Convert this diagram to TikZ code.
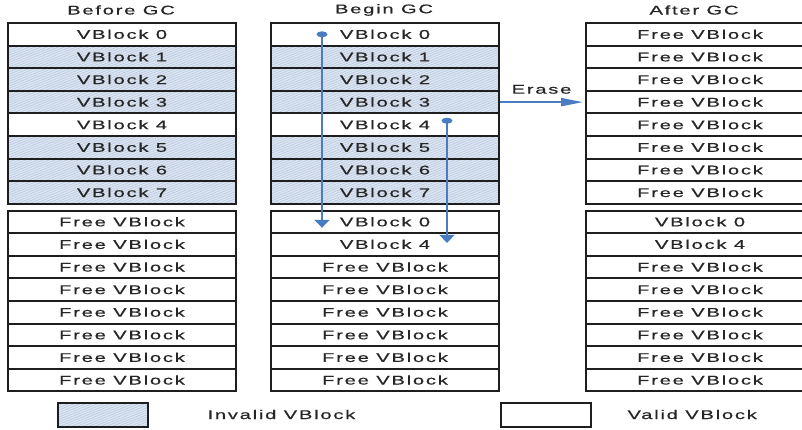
\documentclass[tikz,border=0pt]{standalone}
\usepackage{fontspec}
\setmainfont{Liberation Sans}[FakeStretch=1.6,LetterSpace=14,FakeBold=0.6]
\usetikzlibrary{arrows.meta,patterns.meta,calc,shapes.geometric}
\definecolor{edge}{HTML}{1E1E1E}
\definecolor{txtc}{HTML}{262626}
\definecolor{hatchbg}{HTML}{DCE5F1}
\definecolor{hatchln}{HTML}{B4C5DC}
\definecolor{arrowblue}{HTML}{4A7CC2}
\tikzset{
  txt/.style={font=\fontsize{12.6}{15}\selectfont, text=txtc},
  cell/.style={txt, draw=edge, line width=2pt, fill=white,
    minimum width=228pt, minimum height=22.6pt, inner sep=0pt, anchor=north west},
  inv/.style={fill=none, preaction={fill=hatchbg}, preaction={pattern={Lines[angle=22,distance=2.2pt,line width=0.5pt]}, pattern color=hatchln}},
  legbox/.style={draw=edge, line width=2pt, minimum width=90pt, minimum height=24pt, inner sep=0pt},
  hflow/.style={draw=arrowblue, line width=2pt, -{Triangle[length=22pt,width=8pt]}},
  vflow/.style={draw=arrowblue, line width=2.3pt, -{Triangle[length=8pt,width=15pt]}},
  dotmark/.style={fill=arrowblue, ellipse, minimum width=11pt, minimum height=6pt, inner sep=0pt},
  hdr/.style={txt}
}
\begin{document}
\begin{tikzpicture}[x=1pt,y=-1pt]
\useasboundingbox (0,0) rectangle (802,429);
% column A: Before GC
\node[hdr] (hA) at (121,10) {Before GC};
\node[cell] (A0) at (7,22.0) {VBlock 0};
\node[cell,inv] (A1) at (7,44.6) {VBlock 1};
\node[cell,inv] (A2) at (7,67.2) {VBlock 2};
\node[cell,inv] (A3) at (7,89.8) {VBlock 3};
\node[cell] (A4) at (7,112.4) {VBlock 4};
\node[cell,inv] (A5) at (7,135.0) {VBlock 5};
\node[cell,inv] (A6) at (7,157.6) {VBlock 6};
\node[cell,inv] (A7) at (7,180.2) {VBlock 7};
\node[cell] (AF0) at (7,209.5) {Free VBlock};
\node[cell] (AF1) at (7,232.1) {Free VBlock};
\node[cell] (AF2) at (7,254.7) {Free VBlock};
\node[cell] (AF3) at (7,277.3) {Free VBlock};
\node[cell] (AF4) at (7,299.9) {Free VBlock};
\node[cell] (AF5) at (7,322.5) {Free VBlock};
\node[cell] (AF6) at (7,345.1) {Free VBlock};
\node[cell] (AF7) at (7,367.7) {Free VBlock};
% column B: Begin GC
\node[hdr] (hB) at (384,10) {Begin GC};
\node[cell] (B0) at (270,22.0) {VBlock 0};
\node[cell,inv] (B1) at (270,44.6) {VBlock 1};
\node[cell,inv] (B2) at (270,67.2) {VBlock 2};
\node[cell,inv] (B3) at (270,89.8) {VBlock 3};
\node[cell] (B4) at (270,112.4) {VBlock 4};
\node[cell,inv] (B5) at (270,135.0) {VBlock 5};
\node[cell,inv] (B6) at (270,157.6) {VBlock 6};
\node[cell,inv] (B7) at (270,180.2) {VBlock 7};
\node[cell] (BF0) at (270,209.5) {VBlock 0};
\node[cell] (BF1) at (270,232.1) {VBlock 4};
\node[cell] (BF2) at (270,254.7) {Free VBlock};
\node[cell] (BF3) at (270,277.3) {Free VBlock};
\node[cell] (BF4) at (270,299.9) {Free VBlock};
\node[cell] (BF5) at (270,322.5) {Free VBlock};
\node[cell] (BF6) at (270,345.1) {Free VBlock};
\node[cell] (BF7) at (270,367.7) {Free VBlock};
% column C: After GC
\node[hdr] (hC) at (694,10) {After GC};
\node[cell] (C0) at (585,22.0) {Free VBlock};
\node[cell] (C1) at (585,44.6) {Free VBlock};
\node[cell] (C2) at (585,67.2) {Free VBlock};
\node[cell] (C3) at (585,89.8) {Free VBlock};
\node[cell] (C4) at (585,112.4) {Free VBlock};
\node[cell] (C5) at (585,135.0) {Free VBlock};
\node[cell] (C6) at (585,157.6) {Free VBlock};
\node[cell] (C7) at (585,180.2) {Free VBlock};
\node[cell] (CF0) at (585,209.5) {VBlock 0};
\node[cell] (CF1) at (585,232.1) {VBlock 4};
\node[cell] (CF2) at (585,254.7) {Free VBlock};
\node[cell] (CF3) at (585,277.3) {Free VBlock};
\node[cell] (CF4) at (585,299.9) {Free VBlock};
\node[cell] (CF5) at (585,322.5) {Free VBlock};
\node[cell] (CF6) at (585,345.1) {Free VBlock};
\node[cell] (CF7) at (585,367.7) {Free VBlock};
% erase arrow
\draw[hflow] (B3.east) -- node[txt, above=4pt] (er) {Erase} ($(C3.west)+(-2,0)$);
% move arrows
\node[dotmark] (d1) at ($(B0.west)+(52,0)$) {};
\coordinate (e1) at ($(BF0.west)+(52,6)$);
\draw[vflow] (d1.center) -- (e1);
\node[dotmark] (d2) at ($(B4.west)+(177,-4)$) {};
\coordinate (e2) at ($(BF1.west)+(177,-1.5)$);
\draw[vflow] (d2.center) -- (e2);
% legend
\node[legbox,inv] (lgI) at (103,414.5) {};
\node[txt, anchor=west] (lgIt) at (204,414.5) {Invalid VBlock};
\node[legbox,fill=white] (lgV) at (546,414.5) {};
\node[txt, anchor=west] (lgVt) at (624,414.5) {Valid VBlock};
\end{tikzpicture}
\end{document}
